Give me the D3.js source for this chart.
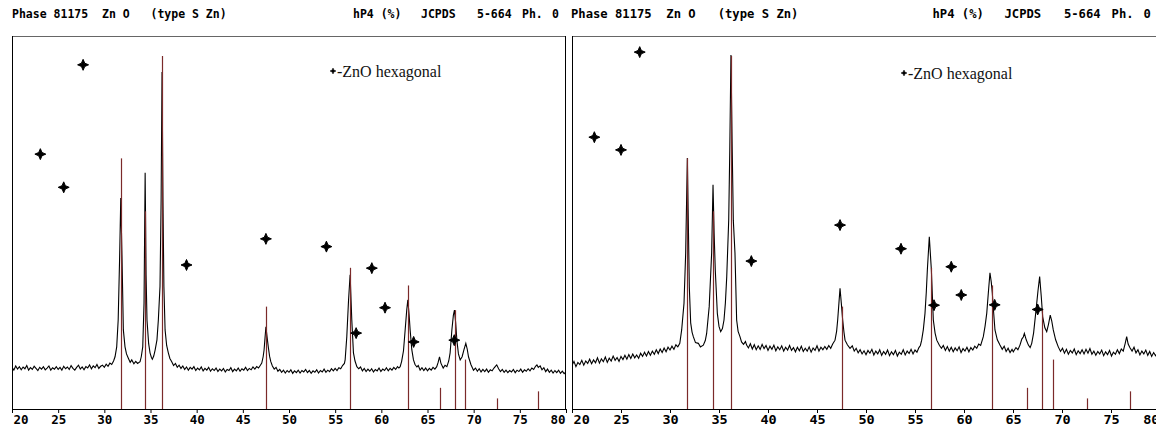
<!DOCTYPE html>
<html><head><meta charset="utf-8">
<script src="https://cdn.jsdelivr.net/npm/d3@7"></script>
<style>body{margin:0;background:#fff;overflow:hidden}svg{display:block}</style>
</head><body>
<svg id="chart" width="1156" height="428"></svg>
<script>
// ---------- DATA ----------
const tickValues = [20,25,30,35,40,45,50,55,60,65,70,75,80];
const headerParts = ["Phase 81175  Zn O   (type S Zn)", "hP4 (%)", "JCPDS", "5-664", "Ph.", "0"];
const legendLabel = "-ZnO hexagonal";

// JCPDS 5-664 reference lines (2theta, relative intensity %)
const jcpdsAngles = [31.77, 34.42, 36.25, 47.54, 56.60, 62.86, 66.38, 67.96, 69.10, 72.56, 76.95];
const jcpdsIntensity = [71, 56, 100, 29, 40, 35, 6, 28, 14, 3, 5];

// Left pattern (2theta, intensity %)
const leftPattern = [
[20.0,11.8],[20.2,11.0],[20.4,12.2],[20.6,11.3],[20.8,12.0],[21.0,11.1],[21.2,11.9],[21.4,11.4],[21.6,12.3],[21.8,11.0],
[22.0,11.7],[22.2,11.2],[22.4,12.1],[22.6,11.5],[22.8,10.9],[23.0,11.8],[23.2,11.3],[23.4,12.0],[23.6,11.1],[23.8,11.6],
[24.0,12.2],[24.2,11.0],[24.4,11.7],[24.6,11.3],[24.8,12.0],[25.0,11.2],[25.2,11.8],[25.4,11.0],[25.6,12.1],[25.8,11.4],
[26.0,11.9],[26.2,11.2],[26.4,12.3],[26.6,11.5],[26.8,11.0],[27.0,11.8],[27.2,12.4],[27.4,11.3],[27.6,11.9],[27.8,11.1],
[28.0,12.0],[28.2,11.6],[28.4,12.5],[28.6,11.4],[28.8,12.2],[29.0,11.7],[29.2,12.6],[29.4,11.5],[29.6,12.1],[29.8,12.4],
[30.0,11.8],[30.2,12.7],[30.4,12.1],[30.6,13.0],[30.8,12.6],[31.0,13.6],[31.16,14.8],[31.34,17.6],[31.5,25.2],[31.65,42.2],
[31.78,59.8],[31.92,42.2],[32.06,22.4],[32.24,17.6],[32.4,15.6],[32.6,14.4],[32.8,13.2],[32.97,13.9],[33.2,12.8],[33.4,13.5],
[33.6,12.9],[33.87,13.4],[34.0,14.8],[34.16,17.6],[34.3,30.0],[34.42,66.9],[34.52,38.0],[34.62,25.2],[34.8,18.5],[34.95,15.9],
[35.1,14.6],[35.2,14.1],[35.35,15.0],[35.5,16.7],[35.7,19.6],[35.85,25.2],[36.03,34.8],[36.15,59.2],[36.25,95.5],[36.35,59.2],
[36.45,34.8],[36.58,22.4],[36.75,18.0],[36.93,15.9],[37.1,14.3],[37.3,13.4],[37.5,12.3],[37.7,12.9],[37.9,11.8],[38.1,12.4],
[38.3,11.5],[38.5,12.2],[38.7,11.2],[38.9,11.9],[39.1,11.0],[39.3,11.8],[39.5,11.3],[39.7,12.0],[39.9,10.9],[40.1,11.6],
[40.3,11.1],[40.5,11.9],[40.7,10.8],[40.9,11.5],[41.1,11.0],[41.3,11.8],[41.5,10.7],[41.7,11.4],[41.9,10.9],[42.1,11.6],
[42.3,10.6],[42.5,11.3],[42.7,10.8],[42.9,11.5],[43.1,10.5],[43.3,11.2],[43.5,10.9],[43.7,11.7],[43.9,10.6],[44.1,11.3],
[44.3,10.8],[44.5,11.6],[44.7,10.7],[44.9,11.4],[45.1,11.0],[45.3,11.8],[45.5,10.9],[45.7,11.5],[45.9,11.1],[46.1,11.9],
[46.3,11.3],[46.5,12.0],[46.7,11.6],[46.9,12.4],[47.05,13.0],[47.2,14.8],[47.3,16.7],[47.4,20.0],[47.5,23.3],[47.62,20.5],
[47.77,17.3],[47.9,14.9],[48.03,13.4],[48.2,12.2],[48.4,11.3],[48.6,11.8],[48.8,10.7],[49.0,11.2],[49.2,10.4],[49.4,11.0],
[49.6,10.2],[49.8,10.9],[50.0,10.4],[50.2,11.1],[50.4,10.1],[50.6,10.8],[50.8,10.3],[51.0,11.0],[51.2,10.2],[51.4,10.9],
[51.6,10.5],[51.8,11.2],[52.0,10.3],[52.2,10.9],[52.4,10.1],[52.6,10.8],[52.8,10.4],[53.0,11.1],[53.2,10.2],[53.4,10.9],
[53.6,10.5],[53.8,11.3],[54.0,10.4],[54.2,11.0],[54.4,10.6],[54.6,11.4],[54.8,10.8],[55.0,11.5],[55.2,10.9],[55.4,11.7],
[55.6,11.4],[55.8,12.3],[56.0,12.9],[56.08,13.9],[56.26,20.5],[56.45,30.9],[56.62,38.0],[56.8,25.2],[56.98,15.9],[57.15,13.6],
[57.35,12.0],[57.55,11.4],[57.75,11.9],[57.95,10.8],[58.15,11.5],[58.35,10.6],[58.55,11.3],[58.75,10.7],[58.95,11.4],[59.15,10.5],
[59.35,11.2],[59.55,10.8],[59.75,11.6],[59.95,10.6],[60.15,11.3],[60.35,10.9],[60.55,11.7],[60.75,10.8],[60.95,11.5],[61.15,11.0],
[61.35,11.8],[61.55,11.2],[61.75,12.0],[61.9,11.6],[62.04,12.0],[62.2,13.5],[62.4,16.5],[62.58,22.4],[62.75,28.0],[62.87,30.9],
[63.0,27.0],[63.12,22.4],[63.3,16.8],[63.48,13.9],[63.65,12.6],[63.85,11.9],[64.0,12.3],[64.2,11.0],[64.4,11.7],[64.6,10.9],
[64.8,11.6],[65.0,10.8],[65.2,11.5],[65.4,11.0],[65.6,11.8],[65.8,11.3],[66.0,12.0],[66.15,13.2],[66.3,14.8],[66.45,13.0],
[66.7,11.6],[66.9,12.4],[67.1,12.0],[67.3,13.6],[67.45,15.9],[67.64,22.4],[67.8,26.5],[67.92,28.0],[68.05,24.5],[68.18,19.5],
[68.35,15.6],[68.54,13.9],[68.75,14.8],[68.95,16.8],[69.15,18.6],[69.3,17.0],[69.44,14.8],[69.7,12.6],[69.98,11.0],[70.2,11.6],
[70.4,10.7],[70.6,11.4],[70.8,10.5],[71.0,11.2],[71.2,10.6],[71.4,11.3],[71.6,10.4],[71.8,11.1],[72.0,10.8],[72.2,11.6],
[72.4,12.2],[72.5,12.5],[72.7,11.4],[72.9,10.6],[73.1,11.2],[73.3,10.4],[73.5,11.0],[73.7,10.3],[73.9,10.9],[74.1,10.5],
[74.3,11.2],[74.5,10.3],[74.7,11.0],[74.9,10.6],[75.1,11.3],[75.3,10.4],[75.5,11.1],[75.7,10.7],[75.9,11.4],[76.1,10.8],
[76.3,11.6],[76.5,11.2],[76.7,12.1],[76.85,12.5],[77.0,11.8],[77.2,12.2],[77.4,11.1],[77.6,11.7],[77.8,10.6],[78.0,11.3],
[78.2,10.4],[78.4,11.0],[78.6,10.2],[78.8,10.9],[79.0,10.3],[79.2,11.0],[79.4,10.1],[79.6,10.7],[79.8,10.0],[80.0,10.5]
];

// Right pattern (2theta, intensity %)
const rightPattern = [
[20.0,12.3],[20.2,13.5],[20.4,12.0],[20.6,13.2],[20.8,12.6],[21.0,13.8],[21.2,12.4],[21.4,13.6],[21.6,12.9],[21.8,14.1],
[22.0,12.8],[22.2,13.9],[22.4,13.1],[22.6,14.5],[22.8,13.0],[23.0,14.2],[23.2,13.4],[23.4,14.7],[23.6,13.2],[23.8,14.4],
[24.0,13.6],[24.2,15.0],[24.4,13.8],[24.6,14.6],[24.8,13.5],[25.0,14.9],[25.2,14.0],[25.4,15.2],[25.6,14.1],[25.8,15.4],
[26.0,14.3],[26.2,15.6],[26.4,14.5],[26.6,15.3],[26.8,14.4],[27.0,15.8],[27.2,14.9],[27.4,16.1],[27.6,15.0],[27.8,16.3],
[28.0,15.2],[28.2,16.4],[28.4,15.5],[28.6,16.8],[28.8,15.7],[29.0,17.0],[29.2,16.0],[29.4,17.3],[29.6,16.2],[29.8,17.5],
[30.0,16.7],[30.2,17.8],[30.4,16.9],[30.6,18.2],[30.8,17.6],[31.0,18.6],[31.19,22.4],[31.43,30.0],[31.6,44.2],[31.77,71.1],
[31.97,34.6],[32.11,24.4],[32.25,21.8],[32.38,20.5],[32.6,18.8],[32.89,18.6],[33.1,17.6],[33.4,18.1],[33.6,19.4],[33.74,21.4],
[34.0,29.0],[34.25,44.2],[34.39,63.5],[34.5,50.0],[34.62,39.4],[34.83,27.1],[35.0,23.4],[35.17,21.9],[35.35,22.8],[35.51,25.2],
[35.65,30.0],[35.79,37.5],[35.99,53.5],[36.1,73.4],[36.22,100.3],[36.35,73.4],[36.46,53.5],[36.63,44.2],[36.8,25.2],[36.95,22.0],
[37.14,20.5],[37.3,19.0],[37.5,18.3],[37.7,19.1],[37.82,18.1],[38.0,17.3],[38.2,18.5],[38.4,17.0],[38.6,18.2],[38.8,16.8],
[39.0,17.9],[39.2,16.9],[39.4,18.3],[39.6,17.1],[39.8,18.0],[40.0,16.6],[40.2,17.8],[40.4,16.9],[40.6,18.1],[40.8,16.5],
[41.0,17.6],[41.2,16.8],[41.4,17.9],[41.6,16.4],[41.8,17.5],[42.0,16.7],[42.2,18.0],[42.4,16.6],[42.6,17.4],[42.8,16.2],
[43.0,17.5],[43.2,16.5],[43.4,17.8],[43.6,16.3],[43.8,17.2],[44.0,16.4],[44.2,17.6],[44.4,16.1],[44.6,17.3],[44.8,16.6],
[45.0,17.9],[45.2,16.4],[45.4,17.5],[45.6,16.8],[45.8,17.7],[46.0,16.9],[46.2,18.0],[46.4,17.2],[46.6,18.4],[46.84,19.5],
[47.0,22.0],[47.11,25.2],[47.25,30.5],[47.35,34.2],[47.48,30.0],[47.62,25.2],[47.75,21.8],[47.86,19.5],[48.1,18.2],[48.37,17.2],
[48.6,17.9],[48.8,16.4],[49.0,17.2],[49.2,15.9],[49.4,16.8],[49.6,15.6],[49.8,16.5],[50.0,15.4],[50.2,16.6],[50.4,15.8],
[50.6,16.9],[50.8,15.3],[51.0,16.4],[51.2,15.6],[51.4,16.8],[51.6,15.2],[51.8,16.3],[52.0,15.5],[52.2,16.7],[52.4,15.1],
[52.6,16.2],[52.8,15.4],[53.0,16.6],[53.2,15.0],[53.4,16.1],[53.6,15.5],[53.8,16.8],[54.0,15.3],[54.2,16.4],[54.4,15.7],
[54.6,16.9],[54.8,15.6],[55.0,16.7],[55.2,16.1],[55.4,17.4],[55.55,18.0],[55.68,19.5],[55.85,22.5],[56.02,27.1],[56.15,33.0],
[56.26,39.4],[56.46,48.8],[56.67,39.4],[56.78,31.5],[56.87,25.2],[57.05,21.5],[57.22,19.5],[57.5,18.0],[57.7,17.2],[57.89,18.0],
[58.1,16.6],[58.3,17.7],[58.5,16.4],[58.7,17.5],[58.9,16.2],[59.1,17.3],[59.3,16.5],[59.5,17.6],[59.7,16.0],[59.9,17.1],
[60.1,16.4],[60.3,17.5],[60.5,16.2],[60.7,17.4],[60.9,16.7],[61.1,17.8],[61.3,17.2],[61.5,18.4],[61.7,18.0],[61.97,20.5],
[62.15,23.5],[62.32,27.1],[62.5,33.5],[62.65,38.6],[62.78,36.0],[62.89,32.8],[63.02,27.5],[63.16,22.4],[63.4,19.6],[63.67,18.1],
[63.9,16.9],[64.1,17.8],[64.3,16.3],[64.5,17.2],[64.7,16.0],[64.9,16.9],[65.03,16.2],[65.3,17.4],[65.5,16.8],[65.71,18.1],
[65.9,19.8],[66.05,20.4],[66.16,21.4],[66.35,19.6],[66.57,18.1],[66.75,17.4],[66.91,18.6],[67.1,21.5],[67.35,28.0],[67.55,33.5],
[67.72,37.5],[67.88,32.0],[68.03,26.1],[68.25,23.0],[68.44,21.9],[68.62,24.0],[68.8,26.6],[68.95,25.0],[69.11,22.4],[69.35,19.6],
[69.62,17.6],[69.85,16.3],[70.05,17.2],[70.25,15.8],[70.45,16.9],[70.65,15.5],[70.85,16.6],[71.05,15.9],[71.25,17.0],[71.45,15.4],
[71.65,16.5],[71.85,15.7],[72.05,16.8],[72.25,15.6],[72.45,16.9],[72.65,15.8],[72.85,17.1],[73.05,15.5],[73.25,16.4],[73.45,15.2],
[73.65,16.3],[73.85,15.6],[74.05,16.7],[74.25,15.1],[74.45,16.2],[74.65,15.4],[74.85,16.6],[75.05,15.0],[75.25,16.1],[75.45,15.5],
[75.65,16.8],[75.85,15.7],[76.05,17.0],[76.25,16.4],[76.45,18.6],[76.6,20.5],[76.75,18.4],[76.95,17.3],[77.15,16.4],[77.35,17.5],
[77.55,15.9],[77.75,16.8],[77.95,15.3],[78.15,16.4],[78.35,15.6],[78.55,16.7],[78.75,15.2],[78.95,16.3],[79.15,14.9],[79.35,16.0],
[79.55,15.1],[79.75,15.8],[80.0,15.3]
];

// "+" ZnO hexagonal markers (2theta, intensity %)
const leftMarkers = [[23.07,72.2],[25.6,62.8],[27.7,97.5],[38.9,40.8],[47.5,48.2],[54.05,46.0],[57.27,21.5],[58.97,39.9],[60.4,28.7],[63.5,19.0],[67.9,19.5]];
const rightMarkers = [[22.28,77.0],[25.0,73.4],[26.91,101.1],[38.3,41.9],[47.35,52.1],[53.57,45.4],[56.94,29.4],[58.7,40.3],[59.72,32.3],[63.13,29.5],[67.52,28.2]];

// ---------- DRAW ----------
const svg = d3.select("#chart");
const yTop = 36, yAxis = 409;
const y = d3.scaleLinear().domain([0, 100]).range([yAxis, 56]);

// 4-point star symbol
const star4 = {
  draw(ctx, size) {
    const r = Math.sqrt(size), ri = r * 0.3;
    ctx.moveTo(0, -r);
    ctx.lineTo(ri, -ri); ctx.lineTo(r, 0); ctx.lineTo(ri, ri);
    ctx.lineTo(0, r); ctx.lineTo(-ri, ri); ctx.lineTo(-r, 0); ctx.lineTo(-ri, -ri);
    ctx.closePath();
  }
};

const panels = [
  {id:"L", x0:12, x1:566, frameRight:566, pattern:leftPattern, markers:leftMarkers, hx:12, hs:1, ts:1, legend:[333,71]},
  {id:"R", x0:572, x1:1160, frameRight:1160, pattern:rightPattern, markers:rightMarkers, hx:571, hs:1.06, ts:1.08, legend:[904,73]}
];

const headerOffsets = [0, 341, 409, 465, 510, 540];

panels.forEach(p => {
  const x = d3.scaleLinear().domain([20, 80]).range([p.x0, p.x1]);
  const g = svg.append("g");

  // header
  const hg = g.append("g").attr("transform", `translate(${p.hx},18) scale(${p.hs},1)`);
  headerParts.forEach((t, i) => {
    hg.append("text").attr("x", headerOffsets[i]).attr("y", 0)
      .attr("font-family", "DejaVu Sans Mono, monospace").attr("font-weight", "bold")
      .attr("font-size", 11.5).attr("fill", "#000")
      .style("white-space","pre").text(t);
  });

  // frame
  g.append("line").attr("x1", p.x0).attr("x2", p.frameRight).attr("y1", yTop + 0.5).attr("y2", yTop + 0.5)
    .attr("stroke", "#666").attr("stroke-width", 1.2);
  g.append("line").attr("x1", p.x0 + 0.5).attr("x2", p.x0 + 0.5).attr("y1", yTop).attr("y2", yAxis)
    .attr("stroke", "#000");
  g.append("line").attr("x1", p.frameRight - 0.5).attr("x2", p.frameRight - 0.5).attr("y1", yTop).attr("y2", yAxis)
    .attr("stroke", "#000");

  const clipId = "clip" + p.id;
  svg.append("clipPath").attr("id", clipId).append("rect")
    .attr("x", p.x0).attr("y", yTop).attr("width", p.x1 - p.x0).attr("height", yAxis - yTop);
  const plot = g.append("g").attr("clip-path", `url(#${clipId})`);

  // data line
  plot.append("path").datum(p.pattern)
    .attr("d", d3.line().x(d => x(d[0])).y(d => y(d[1])))
    .attr("fill", "none").attr("stroke", "#000").attr("stroke-width", 1.1);

  // JCPDS reference lines
  plot.selectAll("line.ref").data(jcpdsAngles).join("line").attr("class", "ref")
    .attr("x1", d => Math.round(x(d)) + 0.5).attr("x2", d => Math.round(x(d)) + 0.5)
    .attr("y1", yAxis).attr("y2", (d, i) => y(jcpdsIntensity[i]))
    .attr("stroke", "#7b2a2a").attr("stroke-width", 1.2);

  // markers
  plot.selectAll("path.mk").data(p.markers).join("path").attr("class", "mk")
    .attr("transform", d => `translate(${x(d[0])},${y(d[1])})`)
    .attr("d", d3.symbol().type(star4).size(30))
    .attr("fill", "#000").attr("stroke", "#000").attr("stroke-width", 1);

  // legend
  const lg = g.append("g").attr("transform", `translate(${p.legend[0]},${p.legend[1]})`);
  lg.append("path").attr("d", d3.symbol().type(star4).size(9)).attr("fill", "#000").attr("stroke","#000").attr("stroke-width",0.5);
  lg.append("text").attr("x", 4).attr("y", 5.5).attr("font-family", "Liberation Serif, Times New Roman, serif")
    .attr("font-size", 16).attr("fill", "#111").text(legendLabel);

  // axis
  const ax = g.append("g").attr("transform", `translate(0,${yAxis})`)
    .call(d3.axisBottom(x).tickValues(tickValues).tickSize(4).tickSizeOuter(0).tickPadding(2).tickFormat(d3.format("d")));
  ax.select(".domain").attr("stroke", "#000").attr("stroke-width", 1.2);
  ax.selectAll(".tick line").attr("stroke", "#000");
  ax.selectAll(".tick text").attr("font-family", "DejaVu Sans Mono, monospace").attr("font-weight", "bold")
    .attr("font-size", 12.5).attr("fill", "#000")
    .attr("transform", `scale(${p.ts},1)`)
    .attr("text-anchor", d => d === 20 ? "start" : (d === 80 ? "end" : "middle"))
    .attr("x", d => d === 20 ? 1 : (d === 80 ? -1 : 0));
});
</script>
</body></html>
